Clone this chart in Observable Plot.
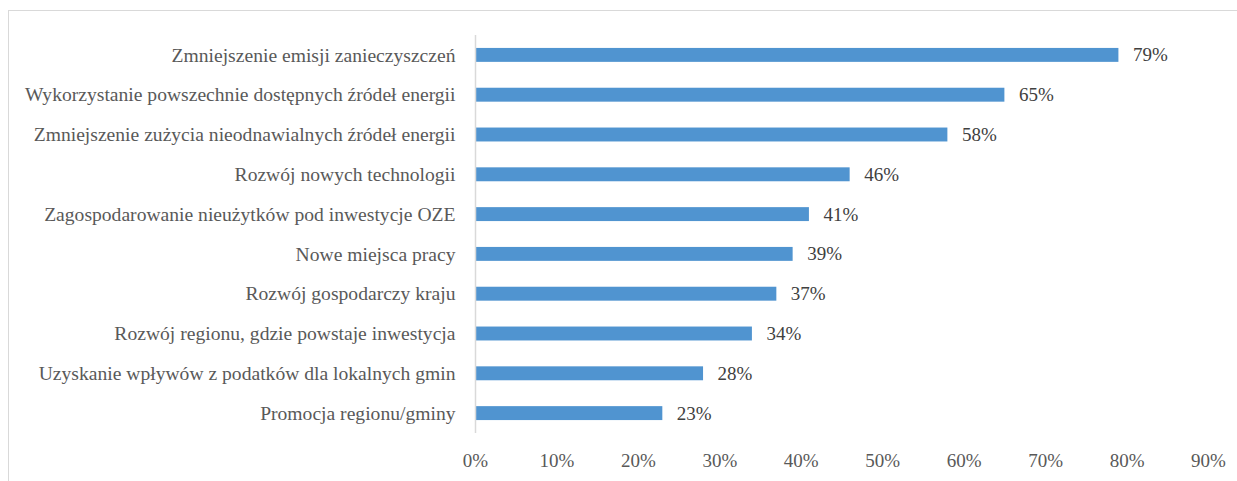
<!DOCTYPE html>
<html>
<head>
<meta charset="utf-8">
<script src="https://cdn.jsdelivr.net/npm/d3@7"></script>
<script src="https://cdn.jsdelivr.net/npm/@observablehq/plot@0.6"></script>
<style>
  html, body { margin: 0; padding: 0; background: #fff; overflow: hidden; }
  #wrap { position: relative; width: 1237px; height: 481px; }
  #frame { position: absolute; left: 8px; top: 10px; width: 1300px; height: 500px; border: 1.5px solid #d9d9d9; box-sizing: border-box; }
  #chart { position: absolute; left: 0; top: 0; }
  #chart svg, #chart svg text { font-family: "Liberation Serif", "DejaVu Serif", serif !important; }
</style>
</head>
<body>
<div id="wrap"><div id="frame"></div><div id="chart"></div></div>
<script>
const categories = [
  "Zmniejszenie emisji zanieczyszczeń",
  "Wykorzystanie powszechnie dostępnych źródeł energii",
  "Zmniejszenie zużycia nieodnawialnych źródeł energii",
  "Rozwój nowych technologii",
  "Zagospodarowanie nieużytków pod inwestycje OZE",
  "Nowe miejsca pracy",
  "Rozwój gospodarczy kraju",
  "Rozwój regionu, gdzie powstaje inwestycja",
  "Uzyskanie wpływów z podatków dla lokalnych gmin",
  "Promocja regionu/gminy"
];
const values = [79, 65, 58, 46, 41, 39, 37, 34, 28, 23];
const xTicks = [0, 10, 20, 30, 40, 50, 60, 70, 80, 90];

const data = categories.map((c, i) => ({category: c, value: values[i]}));

const chart = Plot.plot({
  width: 1237,
  height: 481,
  marginLeft: 475,
  marginRight: 29,
  marginTop: 35,
  marginBottom: 48,
  style: {fontSize: "19px", color: "#595959", background: "transparent"},
  x: {domain: [0, 90], ticks: xTicks, tickFormat: d => d + "%", tickSize: 0, tickPadding: 20, label: null, round: false},
  y: {domain: categories, paddingInner: 0.65, paddingOuter: 0.325, tickSize: 0, tickPadding: 20, label: null, round: false},
  marks: [
    Plot.barX(data, {x: "value", y: "category", fill: "#5094d0"}),
    Plot.ruleX([0], {stroke: "#d9d9d9", strokeWidth: 1.5}),
    Plot.text(data, {x: "value", y: "category", text: d => d.value + "%", textAnchor: "start", dx: 14, fill: "#404040", fontSize: 19})
  ]
});
chart.querySelectorAll("g[aria-label='y-axis tick label'] text").forEach(t => t.style.fontSize = "19.6px");
document.getElementById("chart").appendChild(chart);
</script>
</body>
</html>
